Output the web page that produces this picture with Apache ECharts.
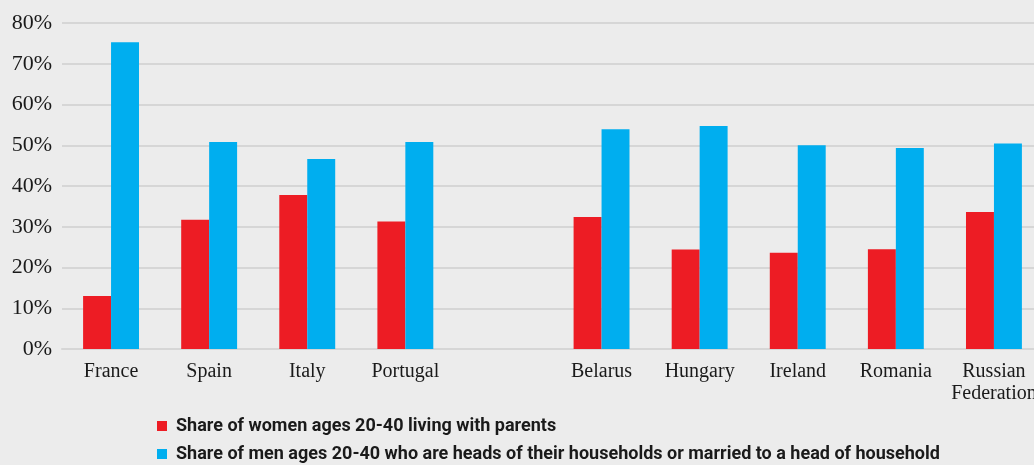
<!DOCTYPE html>
<html><head><meta charset="utf-8">
<script src="https://cdn.jsdelivr.net/npm/echarts@6/dist/echarts.min.js"></script>
<style>html,body{margin:0;padding:0;background:#ececec;}#c{width:1034px;height:465px;}</style>
</head><body><div id="c"></div>
<script>
const categories = ['France','Spain','Italy','Portugal','','Belarus','Hungary','Ireland','Romania','Russian\nFederation'];
const women = [13, 31.7, 37.8, 31.3, null, 32.4, 24.4, 23.6, 24.5, 33.6];
const men = [75.3, 50.8, 46.6, 50.8, null, 53.9, 54.7, 50.0, 49.3, 50.4];
const seriesNames = ['Share of women ages 20-40 living with parents','Share of men ages 20-40 who are heads of their households or married to a head of household'];
const serif = '"Liberation Serif", "DejaVu Serif", serif';
const legendText = {fontFamily:'Roboto, sans-serif',fontWeight:'bold',fontSize:18,color:'#1a1a1a',padding:[0,0,0,4]};
const chart = echarts.init(document.getElementById('c'));
chart.setOption({
  backgroundColor:'#ececec',
  animation:false,
  grid:{left:62,right:-9,top:23,bottom:116,containLabel:false,outerBoundsMode:'none'},
  legend:[
    {data:[seriesNames[0]],left:152,top:412,itemWidth:10,itemHeight:10,icon:'rect',textStyle:legendText,selectedMode:false},
    {data:[seriesNames[1]],left:152,top:440,itemWidth:10,itemHeight:10,icon:'rect',textStyle:legendText,selectedMode:false}
  ],
  xAxis:{type:'category',data:categories,axisTick:{show:false},
    axisLine:{lineStyle:{color:'#d6d6d6',width:2}},
    axisLabel:{fontFamily:serif,fontSize:20,color:'#1a1a1a',margin:12,interval:0,lineHeight:22}},
  yAxis:{type:'value',min:0,max:80,interval:10,
    axisLabel:{formatter:'{value}%',fontFamily:serif,fontSize:22,color:'#1a1a1a',margin:10},
    splitLine:{lineStyle:{color:'#d6d6d6',width:2}}},
  series:[
    {name:seriesNames[0],type:'bar',data:women,itemStyle:{color:'#ed1c24'},barGap:'0%',barCategoryGap:'43%'},
    {name:seriesNames[1],type:'bar',data:men,itemStyle:{color:'#00aeef'},barGap:'0%',barCategoryGap:'43%'}
  ]
});
</script></body></html>
